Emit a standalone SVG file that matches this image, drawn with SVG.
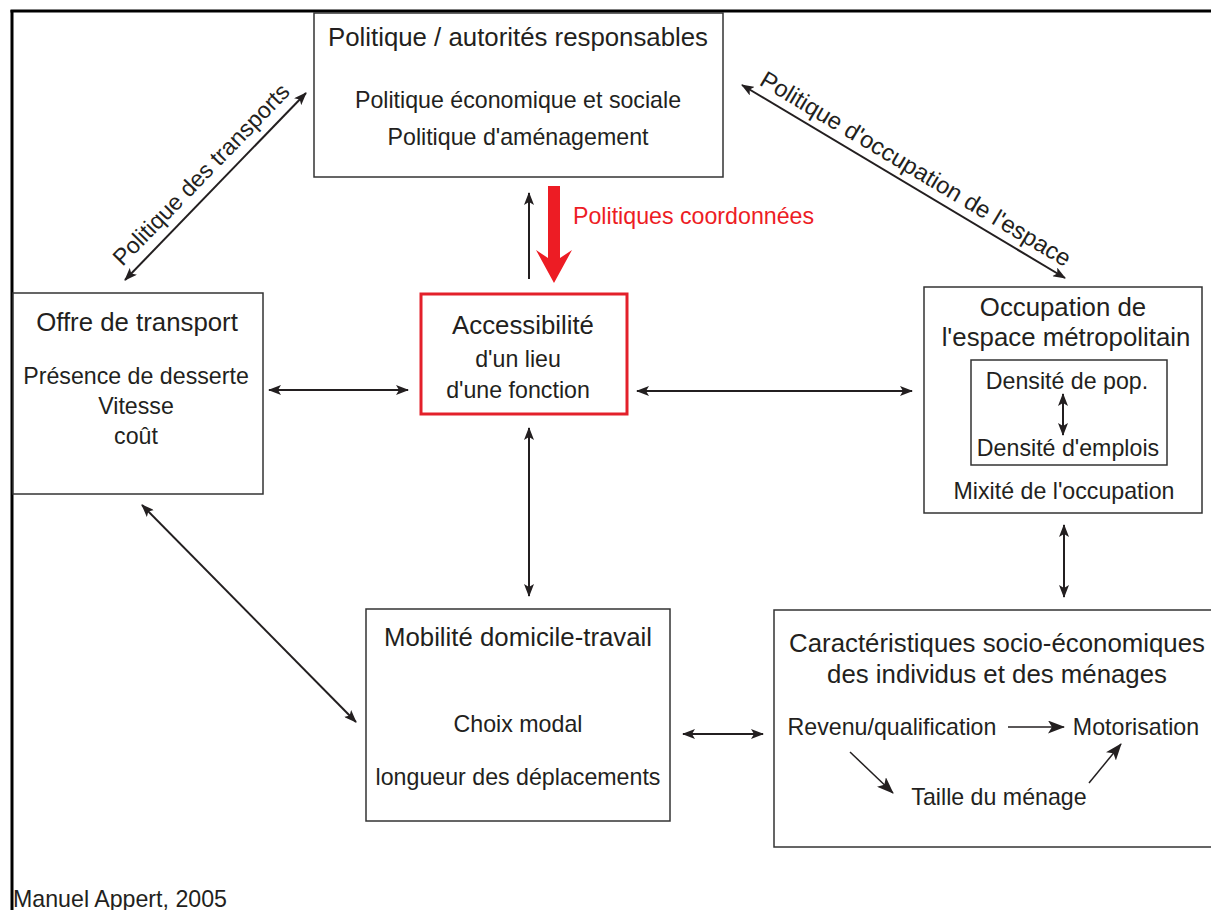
<svg xmlns="http://www.w3.org/2000/svg" width="1211" height="910" viewBox="0 0 1211 910">
<defs>
<marker id="ah" markerUnits="userSpaceOnUse" markerWidth="13" markerHeight="10" refX="12" refY="5" orient="auto-start-reverse" viewBox="0 0 13 10">
<path d="M0,0 L13,5 L0,10 L3,5 z" fill="#231f20"/>
</marker>
<marker id="ahb" markerUnits="userSpaceOnUse" markerWidth="17" markerHeight="13" refX="16" refY="6.5" orient="auto-start-reverse" viewBox="0 0 17 13">
<path d="M0,0 L17,6.5 L0,13 L4,6.5 z" fill="#231f20"/>
</marker>
<style>
text{font-family:"Liberation Sans",Arial,Helvetica,sans-serif;fill:#231f20;text-anchor:middle}
.t{font-size:25.8px}
.b{font-size:23.2px}
.box{fill:#fff;stroke:#333;stroke-width:1.5}
.c{stroke:#231f20;stroke-width:2;fill:none;marker-start:url(#ah);marker-end:url(#ah)}
.ci{stroke:#231f20;stroke-width:1.5;fill:none;marker-end:url(#ahb)}
</style>
</defs>
<rect width="1211" height="910" fill="#fff"/>
<g id="frame">
<line x1="10.5" y1="11" x2="1211" y2="11" stroke="#000" stroke-width="3"/>
<line x1="12" y1="10" x2="12" y2="910" stroke="#000" stroke-width="3"/>
</g>
<g id="politique">
<rect class="box" x="314" y="13" width="409" height="164"/>
<text class="t" x="518" y="46">Politique / autorités responsables</text>
<text class="b" x="518" y="108">Politique économique et sociale</text>
<text class="b" x="518" y="145">Politique d'aménagement</text>
</g>
<g id="offre">
<rect class="box" x="13" y="293" width="250" height="201"/>
<text class="t" x="137" y="331">Offre de transport</text>
<text class="b" x="136" y="384">Présence de desserte</text>
<text class="b" x="136" y="414">Vitesse</text>
<text class="b" x="136" y="444">coût</text>
</g>
<g id="accessibilite">
<rect x="421" y="294" width="206" height="120" fill="#fff" stroke="#e3202a" stroke-width="3"/>
<text class="t" x="523" y="334">Accessibilité</text>
<text class="b" x="518" y="367">d'un lieu</text>
<text class="b" x="518" y="398">d'une fonction</text>
</g>
<g id="occupation">
<rect class="box" x="924" y="287" width="278" height="226"/>
<text class="t" x="1063" y="316">Occupation de</text>
<text class="t" x="1066" y="346">l'espace métropolitain</text>
<rect class="box" x="971" y="360" width="196" height="105"/>
<text class="b" x="1067" y="389">Densité de pop.</text>
<text class="b" x="1068" y="456">Densité d'emplois</text>
<text class="b" x="1064" y="499">Mixité de l'occupation</text>
<line class="c" x1="1063" y1="394" x2="1063" y2="435"/>
</g>
<g id="mobilite">
<rect class="box" x="366" y="609" width="304" height="212"/>
<text class="t" x="518" y="646">Mobilité domicile-travail</text>
<text class="b" x="518" y="732">Choix modal</text>
<text class="b" x="518" y="785">longueur des déplacements</text>
</g>
<g id="caracteristiques">
<rect class="box" x="774" y="610" width="450" height="237"/>
<text class="t" x="997" y="652">Caractéristiques socio-économiques</text>
<text class="t" x="997" y="683">des individus et des ménages</text>
<text class="b" x="892" y="735">Revenu/qualification</text>
<text class="b" x="1136" y="735">Motorisation</text>
<text class="b" x="999" y="805">Taille du ménage</text>
<line class="ci" x1="1008" y1="727" x2="1064" y2="727"/>
<line class="ci" x1="850" y1="752" x2="893" y2="793"/>
<line class="ci" x1="1089" y1="783" x2="1121" y2="744"/>
</g>
<g id="connectors">
<line class="c" x1="125" y1="280" x2="306" y2="93"/>
<line class="c" x1="742" y1="85" x2="1065" y2="278"/>
<line class="c" x1="269" y1="390" x2="408" y2="390"/>
<line class="c" x1="637" y1="391" x2="912" y2="391"/>
<line class="c" x1="529" y1="428" x2="529" y2="596"/>
<line class="c" x1="142" y1="505" x2="356" y2="722"/>
<line class="c" x1="1064" y1="525" x2="1064" y2="597"/>
<line class="c" x1="683" y1="734" x2="763" y2="734"/>
<line stroke="#231f20" stroke-width="2" x1="529" y1="279" x2="529" y2="193" marker-end="url(#ah)"/>
<polygon points="548,186 560,186 560,258 572,250 554,283 536,250 548,258" fill="#ed1c24"/>
</g>
<g id="labels">
<text class="b" transform="translate(214,187) rotate(-45.9)" y="-10">Politique des transports</text>
<text style="font-size:23.8px" transform="translate(907,183.5) rotate(30.86)" y="-9">Politique d'occupation de l'espace</text>
<text class="b" x="573" y="224" style="text-anchor:start;fill:#ed1c24">Politiques coordonnées</text>
<text style="font-size:23.2px;text-anchor:start" x="13" y="907">Manuel Appert, 2005</text>
</g>
</svg>
